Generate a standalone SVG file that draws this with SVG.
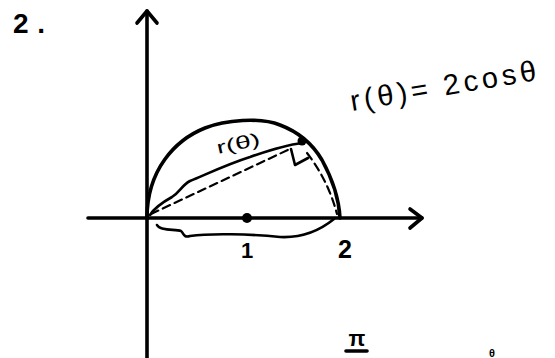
<svg xmlns="http://www.w3.org/2000/svg" width="555" height="358" viewBox="0 0 555 358">
<style>
.ink{fill:none;stroke:#000;stroke-linecap:round;stroke-linejoin:round}
.thick{stroke-width:3.6}
.med{stroke-width:2.6}
.dash{stroke-width:2.2;stroke-dasharray:8 5}
.t{font-family:"Liberation Sans",Arial,sans-serif;fill:#000}
</style>
<rect width="555" height="358" fill="#fff"/>
<g id="axes">
<line class="ink thick" x1="147" y1="11" x2="147" y2="360"/>
<polyline class="ink thick" points="137,23 147,11 157,23"/>
<line class="ink thick" x1="88" y1="218" x2="422" y2="218"/>
<polyline class="ink thick" points="410,209 422,218 410,228"/>
</g>
<g id="curve">
<path class="ink thick" d="M147,218 C147,170 175,140 205,128 C225,120 260,117 280,125 C296,131 312,143 322,160 C333,180 339,200 340,218"/>
<circle cx="302" cy="141" r="4.5" fill="#000"/>
<circle cx="247" cy="218" r="5" fill="#000"/>
</g>
<g id="connectors">
<line class="ink dash" x1="151" y1="214" x2="292" y2="148"/>
<path class="ink dash" d="M307,153 Q328,180 337,214"/>
<polyline class="ink med" points="291,149 295,165 308,158"/>
<path class="ink med" d="M150,215 C155,207 163,202 172,197 C180,192 182,185 190,181 C205,175 225,165 250,157 C270,150 285,145 302,143"/>
<path class="ink med" d="M157,225 C160,231 175,229 181,231 C184,233 183,238 190,236 C210,233 250,234 280,237 C300,238 318,232 334,219"/>
</g>
<g id="labels">
<text class="t" x="13" y="33" font-size="28" font-weight="bold" textLength="32" lengthAdjust="spacing">2.</text>
<text class="t" x="247" y="258" font-size="22" font-weight="bold" text-anchor="middle">1</text>
<text class="t" x="345" y="258" font-size="25" font-weight="bold" text-anchor="middle">2</text>
<text class="t" x="218" y="154" font-size="18" textLength="44" lengthAdjust="spacingAndGlyphs" transform="rotate(-12 218 154)">r(θ)</text>
<text class="t" x="352" y="111" font-size="29" textLength="188" lengthAdjust="spacing" transform="rotate(-9.5 352 111)">r(θ)= 2cosθ</text>
<text class="t" x="357" y="346" font-size="22" font-weight="bold" text-anchor="middle">π</text>
<line class="ink thick" x1="346" y1="351" x2="367" y2="351"/>
<text class="t" x="492" y="357" font-size="11" font-weight="bold" text-anchor="middle">θ</text>
</g>
</svg>
